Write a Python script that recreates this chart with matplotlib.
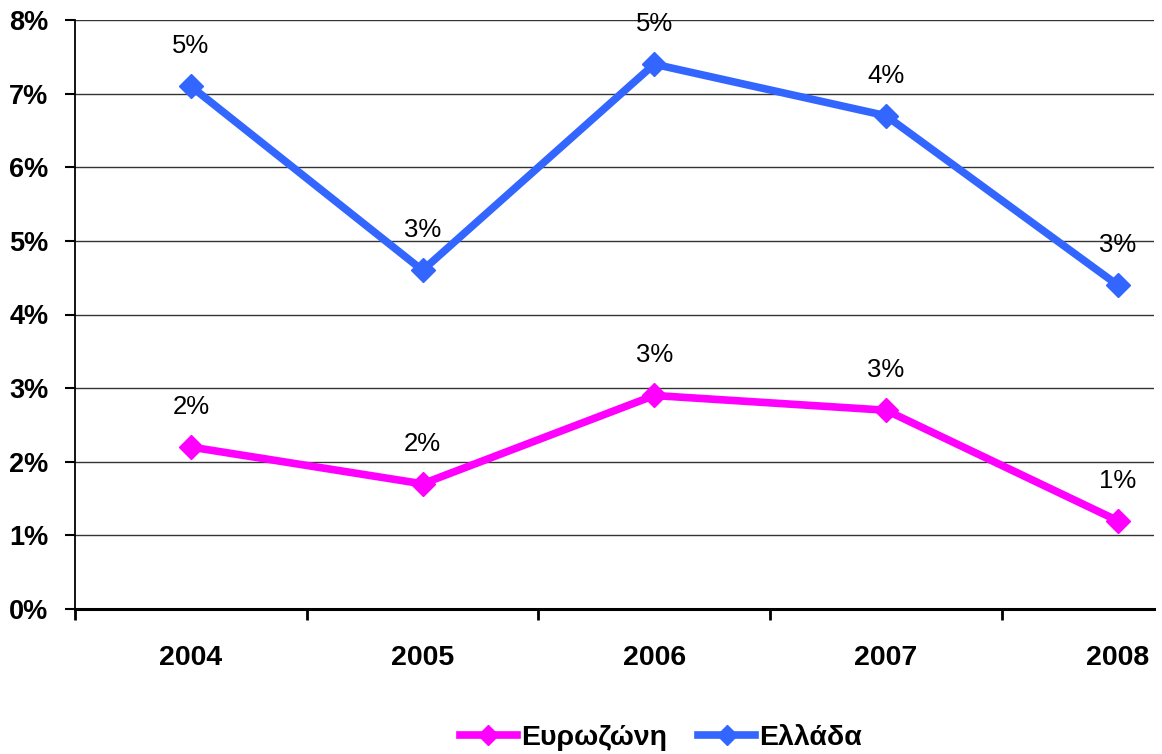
import matplotlib
matplotlib.use("Agg")
import matplotlib.pyplot as plt
from matplotlib.ticker import FixedLocator, NullFormatter

plt.rcParams['font.family'] = ['Liberation Sans', 'DejaVu Sans']

years = ['2004', '2005', '2006', '2007', '2008']
eurozone = [2.2, 1.7, 2.9, 2.7, 1.2]
greece = [7.1, 4.6, 7.4, 6.7, 4.4]
eurozone_labels = ['2%', '2%', '3%', '3%', '1%']
greece_labels = ['5%', '3%', '5%', '4%', '3%']
yticks = [0, 1, 2, 3, 4, 5, 6, 7, 8]
ytick_labels = ['0%', '1%', '2%', '3%', '4%', '5%', '6%', '7%', '8%']

c_ez = '#FF00FF'
c_gr = '#3366FF'

fig = plt.figure(figsize=(11.62, 7.54), dpi=100)
ax = fig.add_axes([75/1162, 1-609/754, (1154-75)/1162, (609-20)/754])

x = list(range(len(years)))
ax.plot(x, eurozone, color=c_ez, lw=5.5, marker='D', ms=12, label='Ευρωζώνη', zorder=3)
ax.plot(x, greece, color=c_gr, lw=5.5, marker='D', ms=12, label='Ελλάδα', zorder=3)

for xi, v, t in zip(x, eurozone, eurozone_labels):
    ax.annotate(t, (xi, v), xytext=(0, 40), textcoords='offset pixels',
                ha='center', va='center', fontsize=18.5, color='black')
for xi, v, t in zip(x, greece, greece_labels):
    ax.annotate(t, (xi, v), xytext=(0, 40), textcoords='offset pixels',
                ha='center', va='center', fontsize=18.5, color='black')

ax.set_ylim(0, 8)
ax.set_xlim(-0.5, -0.5 + (1154-75)/231.7)
ax.set_yticks(yticks)
ax.set_yticklabels(ytick_labels, fontsize=19.5, fontweight='bold')
ax.yaxis.grid(True, color='#333333', lw=1.0)
ax.set_axisbelow(True)

ax.set_xticks(x)
ax.set_xticklabels(years, fontsize=20.5, fontweight='bold')
ax.tick_params(axis='x', which='major', length=0, pad=26)
ax.xaxis.set_minor_locator(FixedLocator([-0.5, 0.5, 1.5, 2.5, 3.5]))
ax.xaxis.set_minor_formatter(NullFormatter())
ax.tick_params(axis='x', which='minor', length=8, width=2, direction='out', color='black')
ax.tick_params(axis='y', length=7, width=1.5, direction='out', pad=12, color='black')

for s in ['top', 'right']:
    ax.spines[s].set_visible(False)
ax.spines['bottom'].set_linewidth(2.2)
ax.spines['left'].set_linewidth(1.3)

leg = fig.legend(loc='center', bbox_to_anchor=(661/1162, 1-738/754), ncol=2,
                 frameon=False, prop={'size': 20.5, 'weight': 'bold'},
                 handlelength=2.0, handletextpad=0.15, columnspacing=1.1)
for h in leg.legend_handles:
    h.set_markersize(10)

fig.savefig('out.png', dpi=100)
